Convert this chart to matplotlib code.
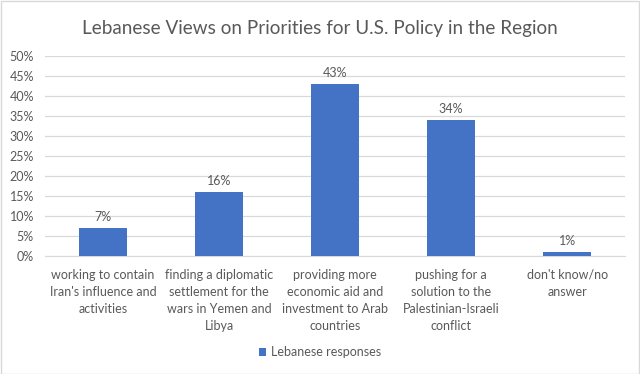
import matplotlib
matplotlib.use("Agg")
import matplotlib.pyplot as plt
from matplotlib.ticker import MultipleLocator, FuncFormatter
from matplotlib.patches import Rectangle

categories = [
    "working to contain\nIran's influence and\nactivities",
    "finding a diplomatic\nsettlement for the\nwars in Yemen and\nLibya",
    "providing more\neconomic aid and\ninvestment to Arab\ncountries",
    "pushing for a\nsolution to the\nPalestinian-Israeli\nconflict",
    "don't know/no\nanswer",
]
values = [7, 16, 43, 34, 1]
series_name = "Lebanese responses"
title = "Lebanese Views on Priorities for U.S. Policy in the Region"

plt.rcParams['font.family'] = ['Lato', 'DejaVu Sans']
text_color = "#595959"
bar_color = "#4472C4"

fig = plt.figure(figsize=(6.4, 3.74), dpi=100)
fig.patch.set_facecolor("white")
fig.add_artist(Rectangle((0.001, 0.001), 0.997, 0.997, transform=fig.transFigure,
                         fill=False, edgecolor="#D9D9D9", linewidth=1))

ax = fig.add_axes([0.0703, 0.3155, 0.9067, 0.5345])
x = list(range(len(categories)))
bars = ax.bar(x, values, width=0.41, color=bar_color, zorder=3, label=series_name)
for xi, v in zip(x, values):
    ax.text(xi, v + 1.2, f"{v}%", ha="center", va="bottom", fontsize=9, color=text_color)

ax.set_ylim(0, 50)
ax.set_xlim(-0.5, len(categories) - 0.5)
ax.yaxis.set_major_locator(MultipleLocator(5))
ax.yaxis.set_major_formatter(FuncFormatter(lambda v, p: f"{int(v)}%"))
ax.grid(axis="y", color="#D9D9D9", linewidth=0.9, zorder=0)
for s in ["top", "right", "left"]:
    ax.spines[s].set_visible(False)
ax.spines["bottom"].set_color("#D9D9D9")
ax.tick_params(axis="both", length=0, colors=text_color, labelsize=9)
ax.tick_params(axis="y", pad=8)
ax.set_xticks(x)
ax.set_xticklabels(categories, fontsize=9, color=text_color, linespacing=1.5)
ax.tick_params(axis="x", pad=9)

fig.text(0.5, 0.925, title, ha="center", va="center", fontsize=13.6,
         color=text_color)

leg = fig.legend(handles=[bars], labels=[series_name], loc="center",
                 bbox_to_anchor=(0.5, 0.058), frameon=False, fontsize=9,
                 handlelength=0.6, handleheight=0.6, handletextpad=0.4)
for t in leg.get_texts():
    t.set_color(text_color)

fig.savefig("out.png", dpi=100)
